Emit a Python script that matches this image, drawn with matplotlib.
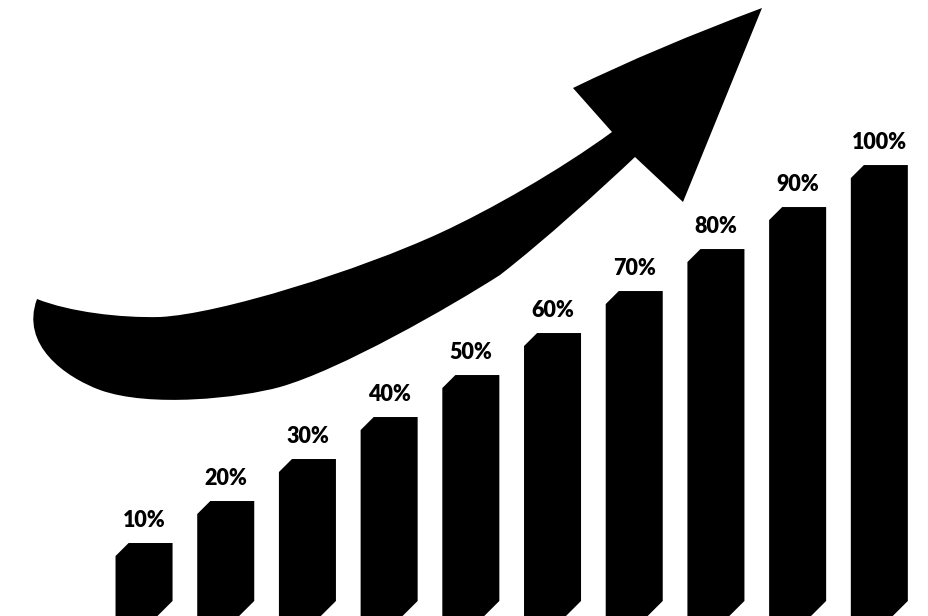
import matplotlib
matplotlib.use("Agg")
import matplotlib.pyplot as plt
import numpy as np
from matplotlib.patches import Polygon, PathPatch
from matplotlib.path import Path

# data
labels = ["10%", "20%", "30%", "40%", "50%", "60%", "70%", "80%", "90%", "100%"]
values = [10, 20, 30, 40, 50, 60, 70, 80, 90, 100]

fig = plt.figure(figsize=(9.29, 6.16), dpi=100)
fig.patch.set_facecolor("white")

# bars axes
ax = fig.add_axes([0, 0, 1, 1])
ax.set_xlim(-1.763, 9.608)
ax.set_ylim(-7.38, 139.3)
ax.axis("off")

bar_w = 0.698
cut_x = 0.16   # top-left chamfer
cut_y = 3.1
for i, (lab, v) in enumerate(zip(labels, values)):
    left, right = i - bar_w / 2, i + bar_w / 2
    pts = [(left, -10), (right - 0.32, -10), (right, -3.8), (right, v),
           (left + cut_x, v), (left, v - cut_y)]
    ax.add_patch(Polygon(pts, closed=True, facecolor="black", edgecolor="none"))
    ax.text(i, v + 3.8, lab, ha="center", va="baseline",
            fontsize=15.5, fontweight="heavy", family=["Lato", "DejaVu Sans"],
            color="black")

# curved arrow, drawn in pixel space
ax2 = fig.add_axes([0, 0, 1, 1])
ax2.set_xlim(0, 929)
ax2.set_ylim(616, 0)
ax2.axis("off")
ax2.patch.set_alpha(0)

M, L, C3, C4 = Path.MOVETO, Path.LINETO, Path.CURVE3, Path.CURVE4
verts = [
    (37, 299),
    # upper edge of the shaft
    (70, 312), (120, 318), (160, 317),
    (220, 314), (360, 270), (440, 233),
    (490, 210), (560, 170), (612, 132),
    # head
    (573, 88),
    (655, 48), (762, 8),
    (683, 202),
    (635, 157),
    # lower edge back to the tail
    (600, 190), (545, 240), (500, 275),
    (450, 307), (340, 370), (280, 387),
    (240, 398), (150, 408), (100, 390),
    (65, 377), (20, 345), (37, 299),
    (37, 299),
]
codes = [M,
         C4, C4, C4,
         C4, C4, C4,
         C4, C4, C4,
         L,
         C3, C3,
         L,
         L,
         C4, C4, C4,
         C4, C4, C4,
         C4, C4, C4,
         C4, C4, C4,
         Path.CLOSEPOLY]
ax2.add_patch(PathPatch(Path(verts, codes), facecolor="black", edgecolor="none"))

fig.savefig("out.png", dpi=100, facecolor="white")
